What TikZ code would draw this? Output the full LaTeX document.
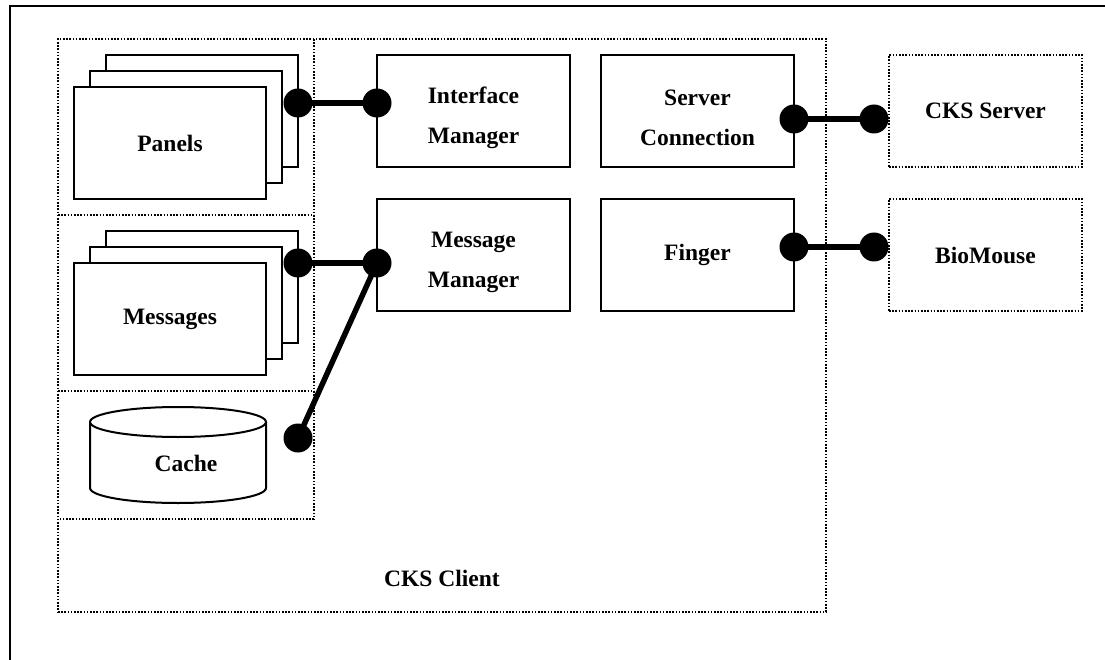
\documentclass[tikz,border=0pt]{standalone}
\usepackage{fontspec}
\setmainfont{Liberation Serif}
\begin{document}
\begin{tikzpicture}[x=1pt,y=-1pt,
  solidbox/.style={draw, line width=2pt, fill=white, inner sep=0pt,
    minimum width=192pt, minimum height=112pt},
  dotline/.style={line width=1.3pt, dash pattern=on 1.6pt off 1.6pt},
  dotbox/.style={draw, dotline},
  ball/.style={circle, fill=black, minimum size=29pt, inner sep=0pt},
  conn/.style={line width=5.5pt},
  lbl/.style={font=\bfseries\fontsize{23.5}{40}\selectfont, align=center, inner sep=0pt}]
\useasboundingbox (0,0) rectangle (1105,660);

% outer frame (only top and left edges fall inside the page)
\draw[line width=2pt] (10,660) -- (10,6.5) -- (1105,6.5);

% CKS Client container
\node[dotbox, minimum width=768pt, minimum height=573pt, inner sep=0pt] (client) at (442,325.5) {};
\node[lbl] (clientlbl) at (442,578) {CKS Client};

% left-hand compartments: panels, messages, cache
\coordinate (colTR) at (314,39);
\coordinate (colBR) at (314,519);
\coordinate (colBL) at (58,519);
\draw[dotline] (colTR) -- (colBR) -- (colBL);
\draw[dotline] (58,215) -- (314,215);
\draw[dotline] (58,391) -- (314,391);

% stacked panels
\node[solidbox] (panelsB) at (202,111) {};
\node[solidbox] (panelsM) at (186,127) {};
\node[solidbox, lbl] (panels) at (170,143) {Panels};

% stacked messages
\node[solidbox] (messagesB) at (202,287) {};
\node[solidbox] (messagesM) at (186,303) {};
\node[solidbox, lbl] (messages) at (170,319) {Messages};

% cache cylinder
\draw[line width=2pt, fill=white] (90,422) -- (90,488)
  arc[start angle=180, end angle=0, x radius=88, y radius=15] -- (266,422);
\draw[line width=2pt, fill=white] (178,422) ellipse[x radius=88, y radius=15];
\node[lbl] (cache) at (186,463) {Cache};

% client components
\node[solidbox, minimum width=193pt] (im) at (473.5,111) {};
\node[lbl] (imlbl) at ([yshift=-7pt]im.center) {Interface\\Manager};
\node[solidbox, minimum width=193pt] (sc) at (697.5,111) {};
\node[lbl] (sclbl) at ([yshift=-7pt]sc.center) {Server\\Connection};
\node[solidbox, minimum width=193pt] (mm) at (473.5,255) {};
\node[lbl] (mmlbl) at ([yshift=-7pt]mm.center) {Message\\Manager};
\node[solidbox, minimum width=193pt, lbl] (finger) at (697.5,255) {Finger};

% external systems
\node[dotbox, lbl, minimum width=193pt, minimum height=112pt] (server) at (985.5,111) {CKS Server};
\node[dotbox, lbl, minimum width=193pt, minimum height=112pt] (biomouse) at (985.5,255) {BioMouse};

% interface balls
\node[ball] (pB) at (298,103) {};
\node[ball] (imB) at (377,103) {};
\node[ball] (msB) at (298,263) {};
\node[ball] (mmB) at (377,263) {};
\node[ball] (caB) at (298,438) {};
\node[ball] (scB) at (794,119) {};
\node[ball] (svB) at (874,119) {};
\node[ball] (fgB) at (794,247) {};
\node[ball] (bmB) at (874,247) {};

% connectors
\draw[conn] (pB.center) -- (imB.center);
\draw[conn] (msB.center) -- (mmB.center);
\draw[conn] (caB.center) -- (mmB.center);
\draw[conn] (scB.center) -- (svB.center);
\draw[conn] (fgB.center) -- (bmB.center);
\end{tikzpicture}
\end{document}
